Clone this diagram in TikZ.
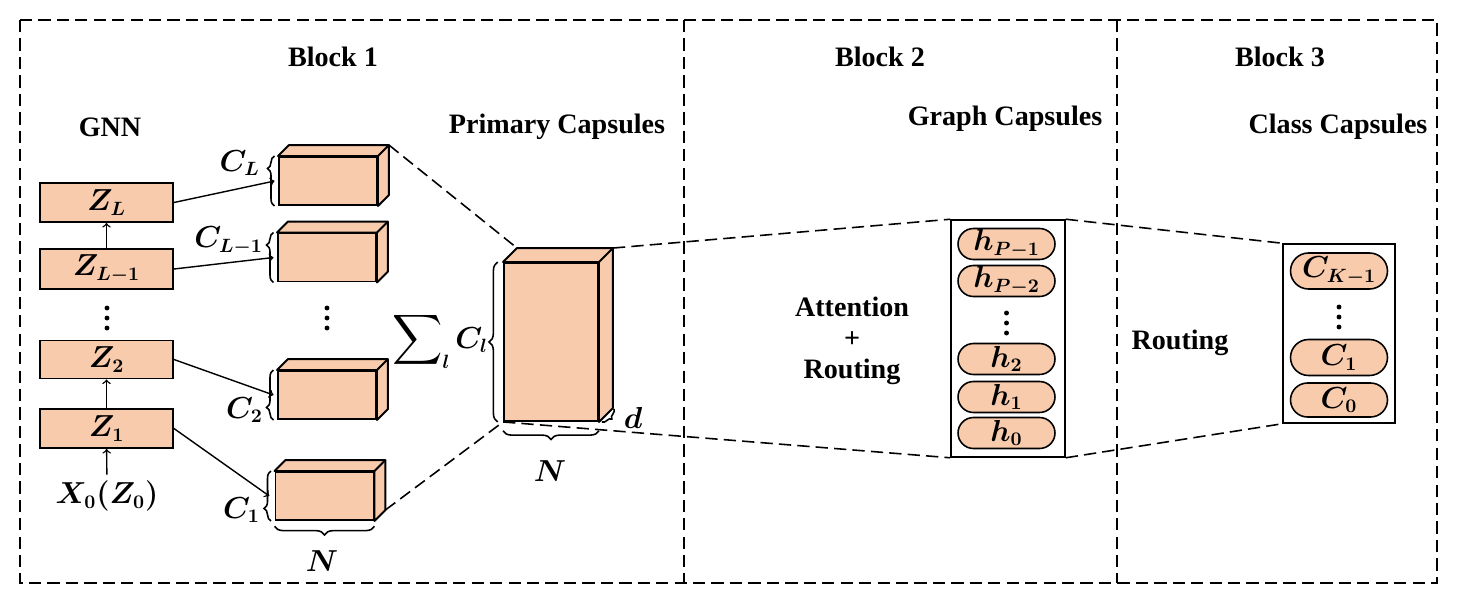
\documentclass[tikz,border=0pt]{standalone}
\usepackage{fontspec}
\setmainfont{Liberation Serif}
\usepackage{amsmath}
\usepackage{bm}
\usetikzlibrary{positioning,decorations.pathreplacing,shapes.misc}
\definecolor{capsule}{HTML}{F8CBAD}
\begin{document}
\begin{tikzpicture}[x=0.02cm, y=-0.02cm, font=\fontsize{16pt}{19pt}\selectfont\bfseries,
    main/.style={rectangle, draw, fill=capsule, line width=1.1pt, inner sep=0pt},
    face/.style={draw, fill=capsule, line width=1.1pt, line join=round},
    pill/.style={rounded rectangle, draw, fill=capsule, line width=0.9pt, minimum width=1.94cm, minimum height=0.62cm, inner sep=0pt},
    frame/.style={draw, line width=0.9pt},
    block/.style={line width=1.2pt, dash pattern=on 7pt off 3.5pt},
    link/.style={line width=0.9pt, dash pattern=on 7pt off 3.5pt},
    brc/.style={decorate, line width=0.9pt, decoration={brace, amplitude=4pt}}]
    \useasboundingbox (0,0) rectangle (1457,612);
    % blocks
    \draw[block] (20,20) rectangle (1437,583);
    \draw[block] (684,20) -- (684,583);
    \draw[block] (1117,20) -- (1117,583);
    \node at (333,57) {Block 1};
    \node at (880,57) {Block 2};
    \node at (1280,57) {Block 3};
    \node at (110,127) {GNN};
    \node at (557,127) {Primary Capsules};
    \node at (1005,119) {Graph Capsules};
    \node at (1338,127) {Class Capsules};

    % GNN
    \node[main, minimum width=2.66cm, minimum height=0.78cm] (1) at (106.5,428.5) {$\bm{Z_1}$};
    \node[main, minimum width=2.66cm, minimum height=0.76cm] (2) at (106.5,359.5) {$\bm{Z_2}$};
    \node[main, minimum width=2.66cm, minimum height=0.8cm] (3) at (106.5,269) {$\bm{Z_{L-1}}$};
    \node[main, minimum width=2.66cm, minimum height=0.78cm] (4) at (106.5,202.5) {$\bm{Z_L}$};
    \node (0) at (107,496) {$\bm{X_0(Z_0)}$};
    \draw[->, line width=0.8pt] (0) -- (1);
    \draw[->, line width=0.8pt] (1) -- (2);
    \draw[->, line width=0.8pt] (3) -- (4);

    % vertical dots
    \foreach \x/\y in {107/308, 327/308, 1006.5/313, 1339/307}
        \foreach \k in {0,1,2}
            \fill (\x,\y+\k*10) circle (1.4pt);

    % primary capsules
    \node[main, minimum width=1.96cm, minimum height=0.96cm] (5) at (324.5,496) {};
    \node[main, minimum width=1.96cm, minimum height=0.96cm] (6) at (327,395) {};
    \node[main, minimum width=1.96cm, minimum height=0.96cm] (7) at (327,257.5) {};
    \node[main, minimum width=1.96cm, minimum height=0.96cm] (8) at (328,181) {};
    \foreach \n in {5,6,7,8} {
        \filldraw[face] (\n.north west) -- ++(11,-11) -- ([shift={(11,-11)}]\n.north east)
            -- ([shift={(11,-11)}]\n.south east) -- (\n.south east) -- (\n.north east) -- cycle;
        \draw[face] (\n.north east) -- ++(11,-11);
    }
    \draw[->, line width=0.8pt] (4.east) -- ([xshift=-2pt]8.west);
    \draw[->, line width=0.8pt] (3.east) -- ([xshift=-2pt]7.west);
    \draw[->, line width=0.8pt] (2.east) -- ([xshift=-2pt]6.west);
    \draw[->, line width=0.8pt] (1.east) -- ([xshift=-3pt]5.west);
    \draw[brc, decoration={aspect=0.75}] ([xshift=-2pt]8.south west) -- ([xshift=-2pt]8.north west);
    \draw[brc, decoration={aspect=0.75}] ([xshift=-2pt]7.south west) -- ([xshift=-2pt]7.north west);
    \draw[brc, decoration={aspect=0.25}] ([xshift=-2pt]6.south west) -- ([xshift=-2pt]6.north west);
    \draw[brc, decoration={aspect=0.25}] ([xshift=-2pt]5.south west) -- ([xshift=-2pt]5.north west);
    \node[anchor=east, inner sep=1pt] at (262,163) {$\bm{C_L}$};
    \node[anchor=east, inner sep=1pt] at (265,241) {$\bm{C_{L-1}}$};
    \node[anchor=east, inner sep=1pt] at (265,410) {$\bm{C_2}$};
    \node[anchor=east, inner sep=1pt] at (262,510) {$\bm{C_1}$};
    \draw[brc, decoration={amplitude=5pt}] ([yshift=-3pt]5.south east) -- ([yshift=-3pt]5.south west);
    \node at (322,561) {$\bm{N}$};

    % sum of capsules
    \node[main, minimum width=1.88cm, minimum height=3.16cm] (9) at (551,342) {};
    \filldraw[face] (9.north west) -- ++(14,-14) -- ([shift={(14,-14)}]9.north east)
        -- ([shift={(14,-14)}]9.south east) -- (9.south east) -- (9.north east) -- cycle;
    \draw[face] (9.north east) -- ++(14,-14);
    \draw[link] ([shift={(11,-11)}]8.north east) -- ([shift={(14,-14)}]9.north west);
    \draw[link] ([shift={(11,-11)}]5.south east) -- (9.south west);
    \draw[brc, decoration={amplitude=5pt}] ([xshift=-3pt]9.south west) -- ([xshift=-3pt]9.north west);
    \node[anchor=east, inner sep=1pt] at (490,340) {$\bm{\mathop{\scalebox{1.15}{$\displaystyle\sum$}}\nolimits_l C_l}$};
    \draw[brc, decoration={amplitude=5pt}] ([yshift=-5pt]9.south east) -- ([yshift=-5pt]9.south west);
    \node at (550,471) {$\bm{N}$};
    \draw[brc, decoration={amplitude=3pt}] ([shift={(15,-13)}]9.south east) -- ([shift={(3,0)}]9.south east);
    \node at (633,418) {$\bm{d}$};

    % graph capsules
    \node[frame, minimum width=2.28cm, minimum height=4.74cm] (10) at (1008,338.5) {};
    \draw[link] ([shift={(14,-14)}]9.north east) -- (10.north west);
    \draw[link] (9.south west) -- (10.south west);
    \node[pill] (11) at (1006.5,244) {$\bm{h_{P-1}}$};
    \node[pill] (12) at (1006.5,281) {$\bm{h_{P-2}}$};
    \node[pill] (13) at (1006.5,359) {$\bm{h_2}$};
    \node[pill] (14) at (1006.5,397) {$\bm{h_1}$};
    \node[pill] (15) at (1006.5,433) {$\bm{h_0}$};
    \node at (852,307) {Attention};
    \node at (852,340) {+};
    \node at (852,372) {Routing};

    % class capsules
    \node[frame, minimum width=2.24cm, minimum height=3.58cm] (16) at (1339,333.5) {};
    \draw[link] (10.north east) -- (16.north west);
    \draw[link] (10.south east) -- (16.south west);
    \node[pill, minimum height=0.72cm] (17) at (1339,271) {$\bm{C_{K-1}}$};
    \node[pill, minimum height=0.72cm] (18) at (1339,357.5) {$\bm{C_1}$};
    \node[pill, minimum height=0.68cm] (19) at (1339,400) {$\bm{C_0}$};
    \node at (1180,343) {Routing};
\end{tikzpicture}
\end{document}
